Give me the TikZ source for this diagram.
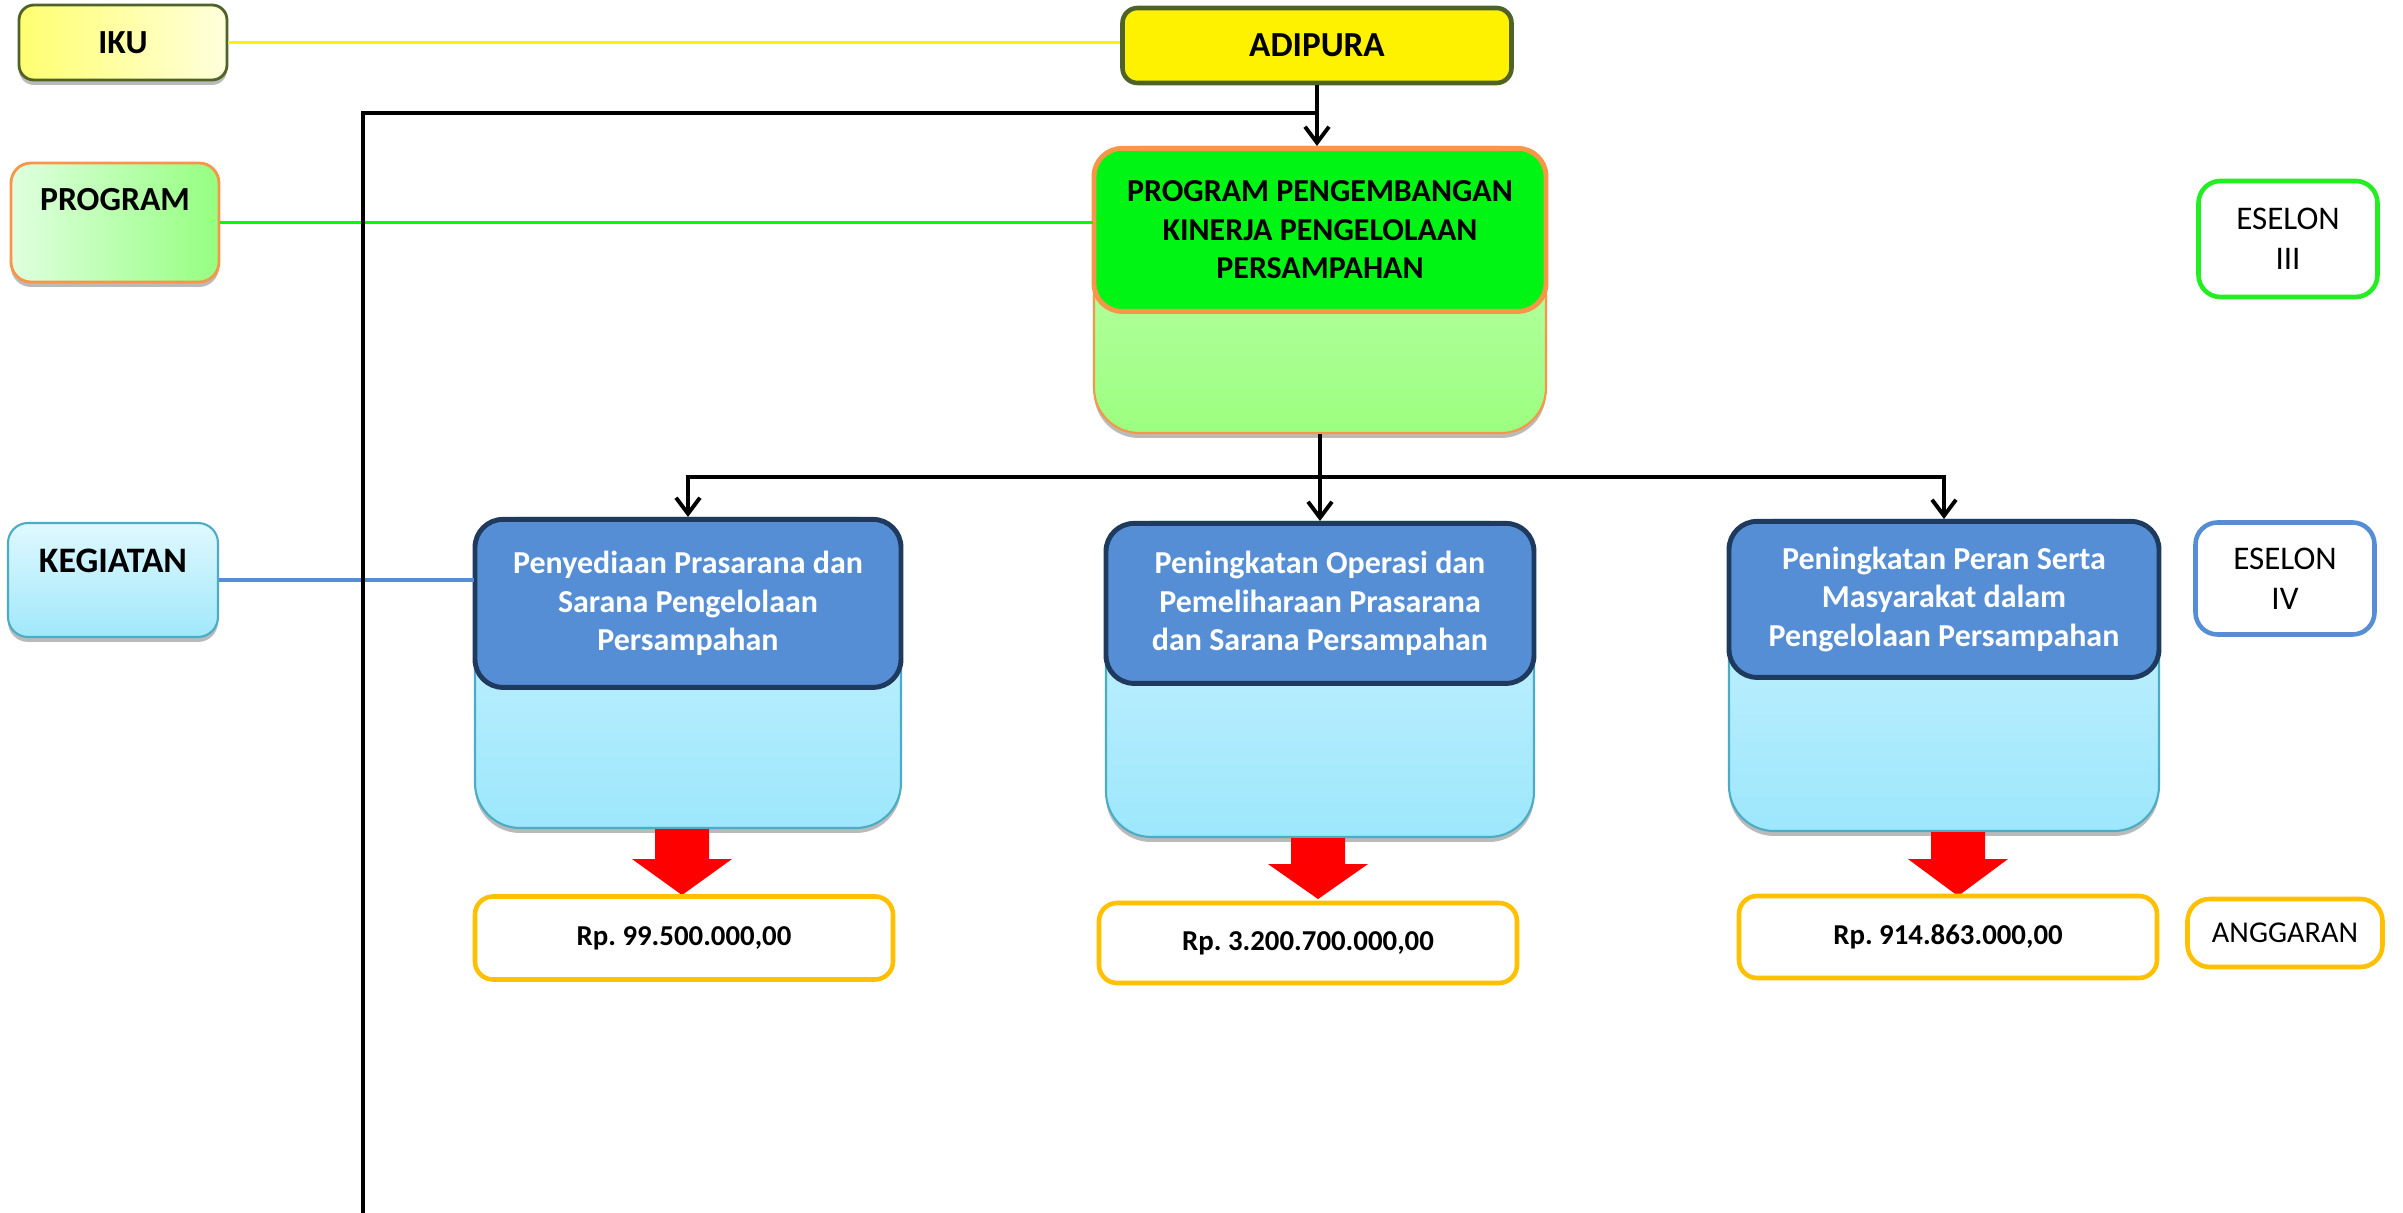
\documentclass[tikz,border=0pt]{standalone}
\usepackage{fontspec}
\setmainfont{Carlito}
\usetikzlibrary{arrows.meta,shadows}
\definecolor{olive}{HTML}{4F6228}
\definecolor{orange}{HTML}{F79646}
\definecolor{navy}{HTML}{1F3A5F}
\definecolor{steel}{HTML}{558ED5}
\definecolor{gold}{HTML}{FFC000}
\definecolor{lime}{HTML}{00F514}
\definecolor{brightgreen}{HTML}{22EE22}
\definecolor{kegedge}{HTML}{4BACC6}
\definecolor{ikuleft}{HTML}{FFFF70}
\definecolor{ikuright}{HTML}{FFFFDD}
\definecolor{progleft}{HTML}{E0FFE0}
\definecolor{progright}{HTML}{95FF80}
\definecolor{progtop}{HTML}{C4FFB4}
\definecolor{progbottom}{HTML}{9CFF80}
\definecolor{kegtop}{HTML}{E0F8FF}
\definecolor{kegbottom}{HTML}{A0E8FA}
\definecolor{paneltop}{HTML}{CFF3FF}
\definecolor{panelbottom}{HTML}{9DE7FC}

\begin{document}
\frenchspacing
\begin{tikzpicture}
		\tikzstyle{box}=[draw, rounded corners=0.15cm, align=center, inner sep=0pt]
		\tikzstyle{lifted}=[drop shadow={shadow xshift=0pt,shadow yshift=-0.05cm,opacity=0.45,fill=black!60}]
		\tikzstyle{caps}=[font=\fontsize{9.6}{11}\selectfont\bfseries]
		\tikzstyle{tag}=[box, rounded corners=0.22cm, line width=1.3pt, fill=white, font=\fontsize{9.4}{11.4}\selectfont]
		\tikzstyle{panel}=[box, rounded corners=0.45cm, lifted]
		\tikzstyle{paneltitle}=[box, anchor=north, rounded corners=0.28cm, line width=1.4pt, font=\fontsize{9.1}{11}\selectfont\bfseries]
		\tikzstyle{budget}=[box, rounded corners=0.18cm, line width=1.3pt, draw=gold, fill=white, minimum width=4.18cm, font=\fontsize{8.2}{9}\selectfont\bfseries]
		\tikzstyle{flow}=[draw, line width=1.1pt, >={Straight Barb[length=0.16cm,width=0.24cm]}]

		\useasboundingbox (0,0) rectangle (24.03,-12.13);

		\node (iku) at (1.23,-0.425) [box, caps, lifted, draw=olive, line width=0.8pt, left color=ikuleft, right color=ikuright, minimum width=2.08cm, minimum height=0.75cm] {IKU};
		\node (adipura) at (13.17,-0.455) [box, caps, draw=olive, line width=1.3pt, fill=yellow, minimum width=3.89cm, minimum height=0.75cm, font=\fontsize{10}{11}\selectfont\bfseries] {ADIPURA};

		\node (program) at (1.15,-2.225) [box, lifted, rounded corners=0.2cm, draw=orange, line width=0.8pt, left color=progleft, right color=progright, minimum width=2.08cm, minimum height=1.19cm, label={[caps,anchor=center,yshift=-0.38cm]north:PROGRAM}] {};
		\node (prog) at (13.20,-2.90) [panel, draw=orange, line width=0.6pt, top color=progtop, bottom color=progbottom, minimum width=4.52cm, minimum height=2.86cm] {};
		\node (progtitle) at (prog.north) [paneltitle, draw=orange, fill=lime, minimum width=4.52cm, minimum height=1.63cm] {PROGRAM PENGEMBANGAN\\KINERJA PENGELOLAAN\\PERSAMPAHAN};

		\node (kegiatan) at (1.13,-5.80) [box, lifted, rounded corners=0.2cm, draw=kegedge, line width=0.6pt, top color=kegtop, bottom color=kegbottom, minimum width=2.10cm, minimum height=1.14cm, label={[anchor=center,yshift=-0.39cm,font=\fontsize{10.2}{11}\selectfont\bfseries]north:KEGIATAN}] {};

		\node (keg1) at (6.88,-6.73) [panel, draw=kegedge, line width=0.6pt, top color=paneltop, bottom color=panelbottom, minimum width=4.26cm, minimum height=3.10cm] {};
		\node (keg1title) at (keg1.north) [paneltitle, draw=navy, fill=steel, text=white, minimum width=4.26cm, minimum height=1.68cm] {Penyediaan Prasarana dan\\Sarana Pengelolaan\\Persampahan};
		\node (keg2) at (13.20,-6.795) [panel, draw=kegedge, line width=0.6pt, top color=paneltop, bottom color=panelbottom, minimum width=4.28cm, minimum height=3.15cm] {};
		\node (keg2title) at (keg2.north) [paneltitle, draw=navy, fill=steel, text=white, minimum width=4.28cm, minimum height=1.60cm] {Peningkatan Operasi dan\\Pemeliharaan Prasarana\\dan Sarana Persampahan};
		\node (keg3) at (19.44,-6.755) [panel, draw=kegedge, line width=0.6pt, top color=paneltop, bottom color=panelbottom, minimum width=4.30cm, minimum height=3.11cm] {};
		\node (keg3title) at (keg3.north) [paneltitle, draw=navy, fill=steel, text=white, minimum width=4.30cm, minimum height=1.56cm] {Peningkatan Peran Serta\\Masyarakat dalam\\Pengelolaan Persampahan};

		% red block arrows down to the budgets
		\fill [red] ([xshift=-0.06cm]keg1.south) ++(-0.27,0) -- ++(0,-0.30) -- ++(-0.23,0) -- ++(0.5,-0.36) -- ++(0.5,0.36) -- ++(-0.23,0) -- ++(0,0.30) -- cycle;
		\fill [red] ([xshift=-0.02cm]keg2.south) ++(-0.27,0) -- ++(0,-0.26) -- ++(-0.23,0) -- ++(0.5,-0.35) -- ++(0.5,0.35) -- ++(-0.23,0) -- ++(0,0.26) -- cycle;
		\fill [red] ([xshift=0.14cm]keg3.south) ++(-0.27,0) -- ++(0,-0.27) -- ++(-0.23,0) -- ++(0.5,-0.37) -- ++(0.5,0.37) -- ++(-0.23,0) -- ++(0,0.27) -- cycle;

		\node (rp1) at (6.84,-9.38) [budget, minimum height=0.83cm] {Rp. 99.500.000,00};
		\node (rp2) at (13.08,-9.43) [budget, minimum height=0.80cm] {Rp. 3.200.700.000,00};
		\node (rp3) at (19.48,-9.37) [budget, minimum height=0.82cm] {Rp. 914.863.000,00};

		\node (eselon3) at (22.88,-2.39) [tag, draw=brightgreen, minimum width=1.79cm, minimum height=1.16cm] {ESELON\\III};
		\node (eselon4) at (22.85,-5.785) [tag, draw=steel, minimum width=1.79cm, minimum height=1.12cm] {ESELON\\IV};
		\node (anggaran) at (22.85,-9.33) [tag, draw=gold, minimum width=1.95cm, minimum height=0.68cm, font=\fontsize{8.6}{10}\selectfont] {ANGGARAN};

		\draw [yellow, line width=1pt] (iku.east) -- (iku.east -| adipura.west);
		\draw [green, line width=1pt] (program.east) -- (program.east -| prog.west);
		\draw [steel, line width=1.1pt] (kegiatan.east) -- (kegiatan.east -| keg1.west);

		\coordinate (corner) at (3.63,-1.13);
		\coordinate (bottomleft) at (3.63,-12.13);
		\path [flow] (bottomleft) -- (corner) -- (corner -| adipura.south);
		\path [flow, ->] (adipura.south) -- (adipura.south |- prog.north);

		\path [flow, ->] (prog.south) -- ++(0,-0.43) -| (keg1.north);
		\path [flow, ->] (prog.south) -- ++(0,-0.43) -| (keg3.north);
		\path [flow, ->] (prog.south) -- (keg2.north);
	\end{tikzpicture}
\end{document}
